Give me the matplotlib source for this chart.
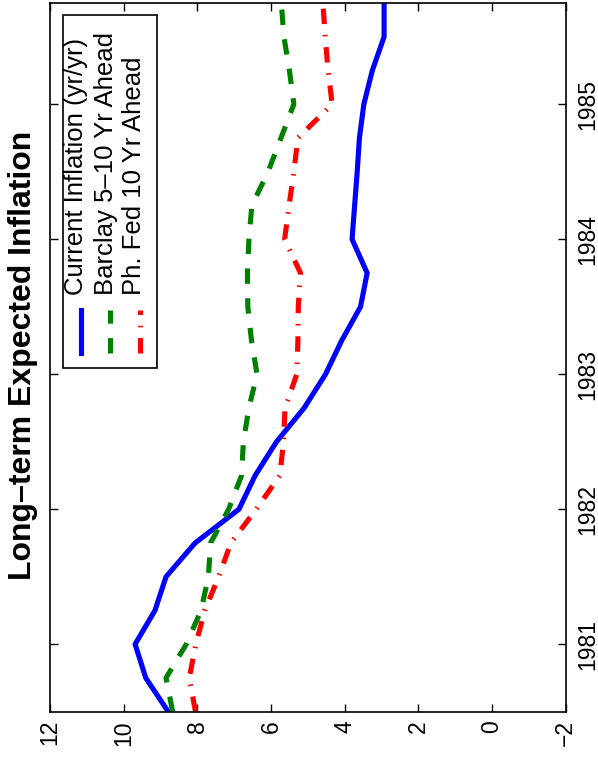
import matplotlib
matplotlib.use('Agg')
import matplotlib.pyplot as plt
from matplotlib.patches import Rectangle
from matplotlib.lines import Line2D

plt.rcParams['font.family'] = ['Liberation Sans', 'DejaVu Sans']

# === Data (quarterly) ===
quarters = [1980.5, 1980.75, 1981.0, 1981.25, 1981.5, 1981.75,
            1982.0, 1982.25, 1982.5, 1982.75, 1983.0, 1983.25,
            1983.5, 1983.75, 1984.0, 1984.25, 1984.5, 1984.75,
            1985.0, 1985.25, 1985.5, 1985.75]
current_infl = [8.79, 9.40, 9.69, 9.15, 8.85, 8.06,
                6.87, 6.43, 5.85, 5.10, 4.52, 4.08,
                3.57, 3.39, 3.80, 3.73, 3.66, 3.60,
                3.48, 3.25, 2.93, 2.93]
barclay = [8.67, 8.85, 8.30, 7.90, 7.70, 7.64,
           7.15, 6.80, 6.75, 6.60, 6.38, 6.53,
           6.63, 6.64, 6.60, 6.52, 6.08, 5.73,
           5.38, 5.50, 5.65, 5.72]
phil_fed = [8.05, 8.22, 8.04, 7.80, 7.42, 7.09,
            6.40, 5.76, 5.66, 5.62, 5.30, 5.27,
            5.26, 5.20, 5.63, 5.51, 5.38, 5.27,
            4.34, 4.45, 4.53, 4.59]

series_labels = ['Current Inflation (yr/yr)', 'Barclay 5–10 Yr Ahead', 'Ph. Fed 10 Yr Ahead']
title = 'Long–term Expected Inflation'
year_ticks = [1981, 1982, 1983, 1984, 1985]
infl_ticks = [12, 10, 8, 6, 4, 2, 0, -2]

# === Layout (pixels, figure is drawn already turned on its side) ===
W, H = 598, 758
L, R, T, B = 50, 565.7, 3, 711.7

fig = plt.figure(figsize=(W / 100, H / 100), dpi=100)
ax = fig.add_axes([L / W, 1 - B / H, (R - L) / W, (B - T) / H])

lw = 3.7
styles = [
    dict(color='#0000ff', ls='-'),
    dict(color='#008000', ls=(0, (3.0, 2.8))),
    dict(color='#ff0000', ls=(0, (3.0, 2.1, 0.3, 2.1))),
]

for vals, st in zip([current_infl, barclay, phil_fed], styles):
    ax.plot(vals, quarters, lw=lw, **st)

ax.set_xlim(12, -2)
ax.set_ylim(1980.5, 1985.75)
ax.set_xticks(infl_ticks)
ax.set_yticks(year_ticks)
ax.set_yticklabels([str(y) for y in year_ticks])
ax.tick_params(direction='in', length=6, width=1, top=True, right=True,
               labelleft=False, labelright=True, labelsize=16.5)
ax.tick_params(axis='x', pad=6, labelrotation=90)
ax.tick_params(axis='y', pad=7.6)
for t in ax.yaxis.get_major_ticks():
    t.label2.set_rotation(90)
    t.label2.set_va('center')
for sp in ax.spines.values():
    sp.set_linewidth(1.2)


# === Legend, built by hand since it is rotated ===
def fx(x):
    return (x - L) / (R - L)


def fy(y):
    return (B - y) / (B - T)


ax.add_patch(Rectangle((fx(62.7), fy(368.3)), fx(157.3) - fx(62.7), fy(15) - fy(368.3),
                       transform=ax.transAxes, facecolor='white', edgecolor='black',
                       lw=1.2, zorder=5))
sample_x = [80.7, 110, 140]
text_x = [83.3, 113.3, 140.7]
for sx, tx, lab, st in zip(sample_x, text_x, series_labels, styles):
    ax.add_line(Line2D([fx(sx), fx(sx)], [fy(353), fy(310)], transform=ax.transAxes,
                       lw=lw, zorder=6, **st))
    ax.text(fx(tx), fy(295), lab, rotation=90, rotation_mode='anchor', ha='left',
            va='baseline', transform=ax.transAxes, fontsize=18.5, zorder=7)

fig.text(23 / W, 1 - 355 / H, title, rotation=90, fontsize=23, fontweight='bold',
         ha='center', va='center')

fig.savefig('out.png', dpi=100)
